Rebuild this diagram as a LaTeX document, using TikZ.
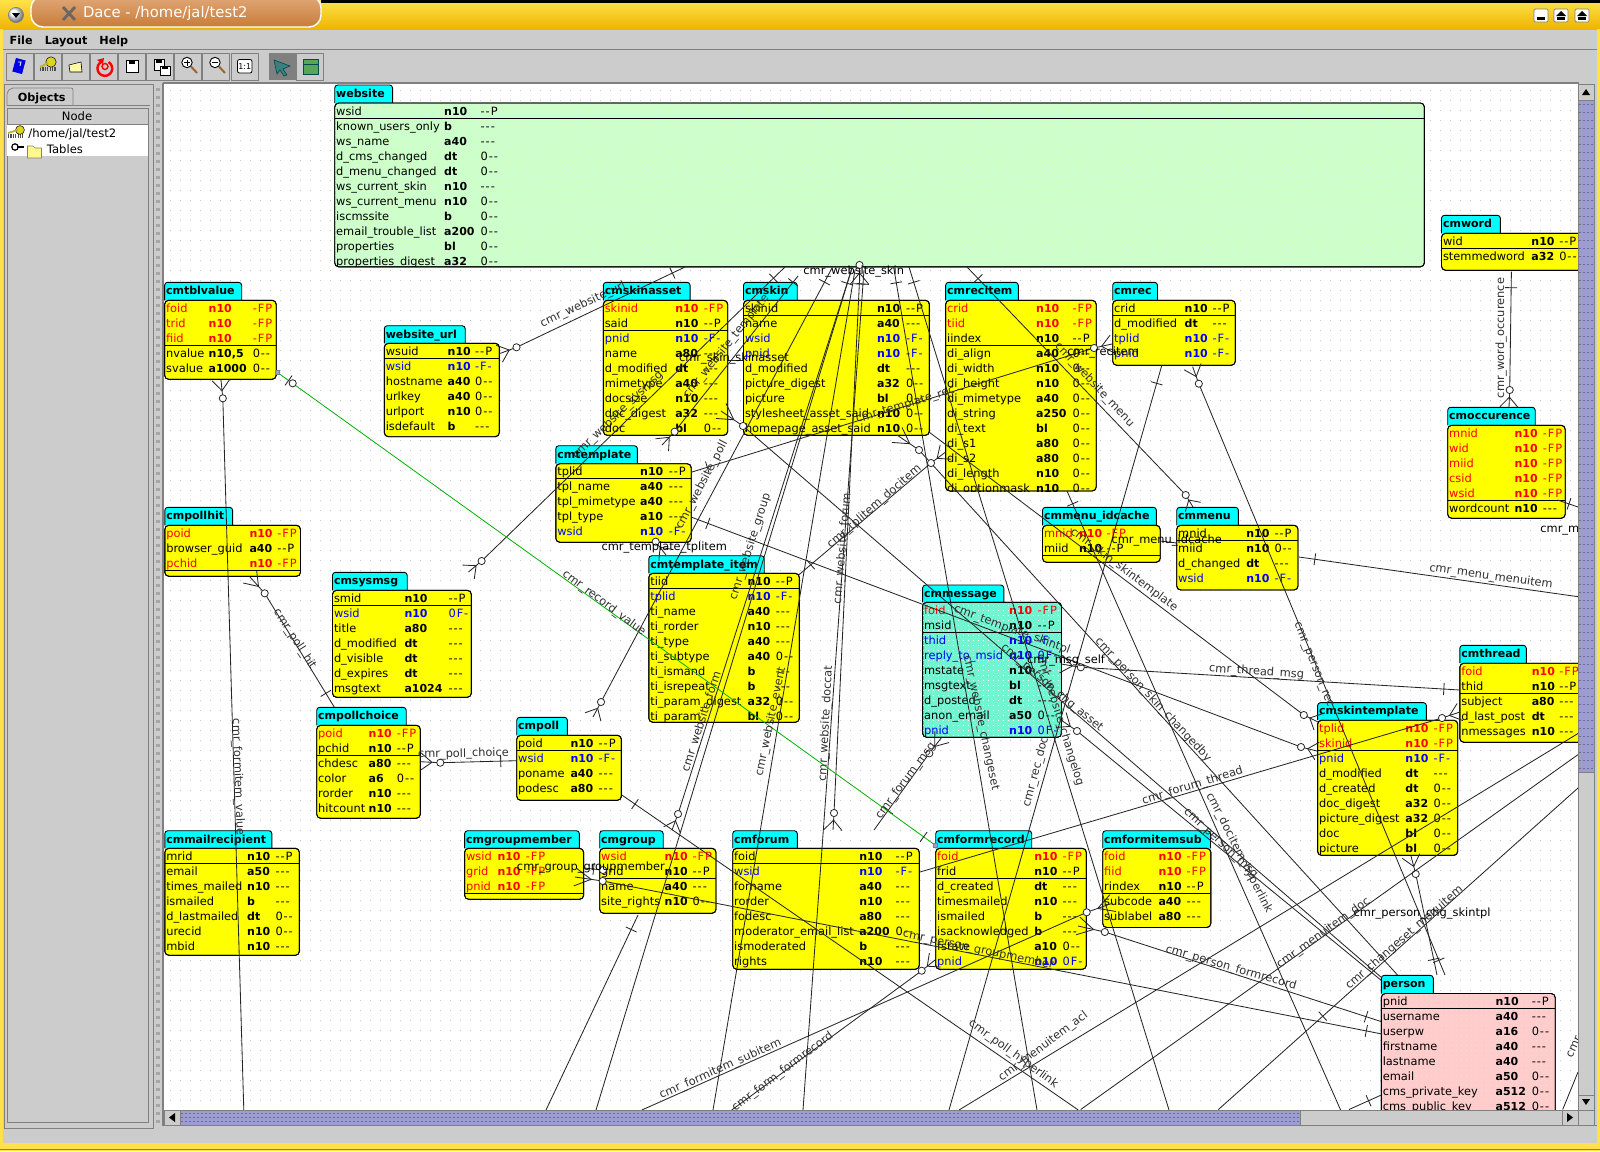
\documentclass[tikz,border=0pt]{standalone}
\usepackage{fontspec}
\setmainfont{DejaVu Sans}
\newfontfamily\flagf[LetterSpace=8]{DejaVu Sans}
\usetikzlibrary{calc,shapes.geometric}
\catcode`\_=12
\definecolor{uigrey}{HTML}{CCCCCC}
\definecolor{uidark}{HTML}{808080}
\definecolor{tabc}{HTML}{00FFFF}
\definecolor{yel}{HTML}{FFFF00}
\definecolor{grn}{HTML}{CCFFCC}
\definecolor{pnk}{HTML}{FFCCCC}
\definecolor{aqu}{HTML}{70F5D0}
\definecolor{rowk}{HTML}{000000}
\definecolor{rowr}{HTML}{FF0000}
\definecolor{rowb}{HTML}{0000FF}
\definecolor{dotc}{HTML}{C4C4E0}
\definecolor{thumb}{HTML}{9C9CD0}
\definecolor{goldA}{HTML}{FFE24A}
\definecolor{goldB}{HTML}{EEB400}
\definecolor{pillA}{HTML}{E0A878}
\definecolor{pillB}{HTML}{C87C38}
\definecolor{labc}{HTML}{303030}
\tikzset{
 frame/.style={draw=black,line width=.45pt},
 hd/.style={font=\fontsize{5.5}{6}\selectfont\bfseries,inner sep=0,outer sep=0},
 rname/.style={font=\fontsize{5.7}{6}\selectfont,inner sep=0,outer sep=0,anchor=base west},
 rtype/.style={font=\fontsize{5.5}{6}\selectfont\bfseries,inner sep=0,outer sep=0,anchor=base west},
 rflag/.style={font=\flagf\fontsize{5.7}{6}\selectfont,inner sep=0,outer sep=0,anchor=base west},
 lnk/.style={draw=black!85,line width=.42pt},
 circ/.style={circle,draw=black!85,fill=white,line width=.4pt,minimum size=3.6pt,inner sep=0},
 lab/.style={font=\fontsize{5.7}{6}\selectfont,text=labc,inner sep=0},
 blab/.style={font=\fontsize{5.7}{6}\selectfont,text=black,inner sep=0},
 ui/.style={font=\fontsize{5.8}{6}\selectfont,inner sep=0,anchor=base west},
 uib/.style={font=\fontsize{5.6}{6}\selectfont\bfseries,inner sep=0,anchor=base west},
 btn/.style={draw=uidark,line width=.4pt,fill=uigrey},
}
\newcounter{cn}
\newcommand\tblgeo[8]{\def\tL{#1}\def\tT{#2}\def\tR{#3}\def\tTop{#4}\def\tB{#5}\def\tBot{#6}\def\tCa{#7}\def\tCb{#8}}
\def\tblhook{}
\newcommand\specks[1]{\def\tblhook{\foreach \sy in {105,110,...,1125}{\draw[#1,line width=.4pt,dash pattern=on .4pt off 2.1pt] (\tL,\sy) -- (\tR,\sy);}}}
\newcommand\tbl[5]{%
 \draw[frame,fill=tabc,rounded corners=1.5pt] (\tL,\tB) -- (\tL,\tTop) -- (\tT,\tTop) -- (\tT,\tB);
 \node[hd,anchor=base west] (#1-t) at (\tL+1.5,\tTop+12.3) {#2};
 \pgfmathsetmacro\bw{(\tR-\tL)*.5}\pgfmathsetmacro\bh{(\tBot-\tB)*.5}
 \node[frame,fill=#4,rounded corners=2pt,minimum width=\bw pt,minimum height=\bh pt,anchor=north west,inner sep=0,outer sep=0] (#1) at (\tL,\tB) {};
 \begin{scope}
 \clip[rounded corners=2pt] (\tL,\tB) rectangle (\tR,\tBot);
 \tblhook
 \draw[frame] (\tL,\tB+15*#3) -- (\tR,\tB+15*#3);
 \foreach [count=\i] \rc/\rn/\rt/\rf in {#5} {
  \node[rname,text=row\rc] (#1-\i-n) at (\tL+1.5,\tB-3+15*\i) {\rn};
  \node[rtype,text=row\rc] (#1-\i-t) at (\tCa,\tB-3+15*\i) {\rt};
  \node[rflag,text=row\rc] (#1-\i-f) at (\tCb,\tB-3+15*\i) {\rf};
 }
 \end{scope}
 \draw[frame,rounded corners=2pt] (\tL,\tB) rectangle (\tR,\tBot);
 \def\tblhook{}
}
\newcommand\rel[3]{\coordinate (#1-a) at (#2);\coordinate (#1-b) at (#3);\draw[lnk] (#1-a) -- (#1-b);}
\newcommand\tk[3]{\coordinate (tkc) at ($(#1)!#3pt!(#2)$);\draw[lnk] ($(tkc)!3pt!90:(#2)$) -- ($(tkc)!3pt!-90:(#2)$);}
\newcommand\ox[1]{\stepcounter{cn}\node[circ] (o\thecn) at (#1) {};}
\newcommand\ft[2]{\draw[lnk] (#1) -- (#2);
 \draw[lnk] ($(#1)!.42!(#2)$) -- ($(#2)!4.5pt!90:(#1)$);
 \draw[lnk] ($(#1)!.42!(#2)$) -- ($(#2)!4.5pt!-90:(#1)$);
 \ox{#1}}
\newcommand\lb[4]{\stepcounter{cn}\node[lab,rotate=#3] (l\thecn) at (#1,#2) {#4};}
\newcommand\blb[3]{\stepcounter{cn}\node[blab] (l\thecn) at (#1,#2) {#3};}
\begin{document}
\begin{tikzpicture}[x=.5pt,y=-.5pt]
\useasboundingbox (0,0) rectangle (1600,1151);
% ---------- window chrome
\fill[uigrey] (0,0) rectangle (1600,1151);
\shade[top color=goldA,bottom color=goldB] (0,0) rectangle (1600,29);
\fill[black] (321,0) rectangle (1600,3);
\fill[goldA] (0,29) rectangle (3,1151);
\fill[goldA] (1597,29) rectangle (1600,1151);
\fill[goldA] (0,1143) rectangle (1600,1151);
\draw[goldB!70!black,line width=.5pt] (0,1149.5) -- (1600,1149.5);
\shade[top color=pillA,bottom color=pillB,draw=white,line width=.7pt,rounded corners=6pt] (31,-4) rectangle (321,27);
\draw[line width=1.4pt,uidark!80!black] (63,7) -- (75,20) (75,7) -- (63,20);
\node[font=\fontsize{7.4}{8}\selectfont,text=white,inner sep=0,anchor=base west] (title) at (82.6,18) {Dace - /home/jal/test2};
\shade[ball color=white,draw=uidark,line width=.3pt] (16,15) circle (3.8pt);
\fill[black] (12,13) -- (20,13) -- (16,18) -- cycle;
\foreach \wx in {1541,1561,1582}{
 \draw[uidark,fill=white,line width=.4pt,rounded corners=.6pt] (\wx-7,9) rectangle (\wx+7,22);
}
\fill[black] (1537,17) rectangle (1545,20);
\fill[black] (1561,11) -- (1566,16) -- (1556,16) -- cycle;
\fill[black] (1557,17) rectangle (1565,20);
\fill[black] (1582,11) -- (1587,16) -- (1577,16) -- cycle;
\fill[black] (1578,17) rectangle (1586,20);
\node[uib] (mfile) at (9.3,44) {File};
\node[uib] (mlayout) at (44.4,44) {Layout};
\node[uib] (mhelp) at (99,44) {Help};
\draw[uidark,line width=.4pt] (3,49.5) -- (1597,49.5);
\foreach \bx in {6,34.5,62.5,90.5,118.5,146.5,174.5,202.5,231}{
 \draw[btn] (\bx,53) rectangle (\bx+27,80);
}
\fill[uidark] (268.5,53) rectangle (295.5,80);
\draw[btn] (296.5,53) rectangle (323.5,80);
% toolbar icons
\fill[blue!90!black,rotate around={-15:(19,66)}] (14,59) rectangle (24,73);
\draw[white,line width=.4pt] (18,62) -- (21,62) -- (20,66);
\draw[black!70,line width=.8pt,dash pattern=on .6pt off .6pt] (40,70) -- (56,70) (40,68) -- (56,68);
\fill[yellow!85!black,draw=black,line width=.25pt] (51,62) circle (2.6pt);
\draw[yellow!70!black,line width=1pt] (40,67) -- (48,63);
\draw[black,fill=yellow!35!white,line width=.3pt] (69,65) -- (81,62) -- (82,72) -- (70,72) -- cycle;
\draw[red,line width=1.2pt] (102.3,61.5) arc (110:420:3.7pt);
\draw[red,line width=.7pt] (105,66.5) circle (1.5pt);
\fill[red] (97,60) -- (104,58) -- (103,64) -- cycle;
\draw[black,fill=white,line width=.5pt] (126,60) rectangle (138,72);
\fill[black] (129,60) rectangle (135,64);
\draw[black,fill=white,line width=.5pt] (154,59) rectangle (164,70);
\fill[black] (156,59) rectangle (162,62.5);
\draw[black,fill=white,line width=.5pt] (160,66) rectangle (170,75);
\fill[black] (162,66) rectangle (168,69);
\foreach \mx/\ms in {187/1,215/0}{
 \draw[black,fill=white,line width=.45pt] (\mx,62.5) circle (2.6pt);
 \draw[black,line width=.35pt] (\mx-3,62.5) -- (\mx+3,62.5);
 \ifnum\ms=1 \draw[black,line width=.35pt] (\mx,59.5) -- (\mx,65.5);\fi
 \draw[brown!80!black,line width=1pt] (\mx+4,66.5) -- (\mx+10,73);
}
\draw[black,fill=white,line width=.4pt,rounded corners=1pt] (237.5,59.5) rectangle (252,73);
\node[font=\fontsize{4}{4}\selectfont,inner sep=0] (one) at (244.7,66.3) {1:1};
\fill[teal!55!gray,draw=teal!60!black,line width=.3pt] (274,60) -- (290,66) -- (283,69) -- (287,75) -- (284,76) -- (280,70) -- (277,74) -- cycle;
\fill[green!30!gray] (303,59) rectangle (318,74);
\draw[teal!60!black,line width=.4pt] (303,59) rectangle (318,74);
\draw[teal!60!black,line width=.4pt] (303,64) -- (318,64);
% left panel
\draw[uidark,line width=.4pt] (4,84) rectangle (153,1128);
\draw[uidark,fill=uigrey,line width=.4pt,rounded corners=1pt] (7,105) -- (7,92) -- (11,88) -- (73,88) -- (73,105);
\node[uib] (objects) at (17.5,101) {Objects};
\draw[uidark,line width=.4pt] (7,105) -- (150,105);
\draw[uidark,line width=.4pt,fill=uigrey] (7,108) rectangle (148,1122);
\fill[white] (7,124) rectangle (148,156);
\draw[btn] (7,108) rectangle (148,124);
\node[font=\fontsize{5.8}{6}\selectfont,inner sep=0] (nodeh) at (77,116.5) {Node};
\draw[black!70,line width=.8pt,dash pattern=on .6pt off .6pt] (8,137) -- (23,137) (8,135) -- (23,135);
\fill[yellow!85!black,draw=black,line width=.25pt] (20,130) circle (2.2pt);
\draw[yellow!70!black,line width=.9pt] (8,133) -- (18,130);
\node[ui] (root) at (28,137) {/home/jal/test2};
\draw[black,fill=white,line width=.6pt] (15,147) circle (1.6pt);
\draw[black,line width=.6pt] (17,147) -- (24,147);
\draw[black!50,fill=yellow!45,line width=.3pt] (27.5,146) -- (33,146) -- (35,148) -- (41.5,148) -- (41.5,158) -- (27.5,158) -- cycle;
\node[ui] (tables) at (46.5,153) {Tables};
% splitter
\foreach \sy in {88,96,...,1120}{\fill[uidark!70] (156,\sy) rectangle (160,\sy+3);}
% ---------- canvas
\fill[white] (164,84) rectangle (1578,1110);
\draw[uidark,line width=.8pt] (163,83) -- (1578.5,83) (163,83) -- (163,1126);
\begin{scope}
\clip (164,84) rectangle (1578,1110);
\foreach \gy in {90,100,...,1110}{
 \draw[dotc,line width=.5pt,dash pattern=on .5pt off 4.5pt] (170,\gy) -- (1578,\gy);
}
% ---------- tables
\tblgeo{334.7}{392.6}{1424.4}{85}{103}{266.8}{444.2}{480.7}
\specks{green!35!yellow!35}
\tbl{website}{website}{1}{grn}{k/wsid/n10/--P,k/known_users_only/b/---,k/ws_name/a40/---,k/d_cms_changed/dt/0--,k/d_menu_changed/dt/0--,k/ws_current_skin/n10/---,k/ws_current_menu/n10/0--,k/iscmssite/b/0--,k/email_trouble_list/a200/0--,k/properties/bl/0--,k/properties_digest/a32/0--}
\tblgeo{164.6}{241.7}{276.2}{282.3}{300.3}{379.3}{208.7}{252.8}
\tbl{cmtblvalue}{cmtblvalue}{3}{yel}{r/foid/n10/-FP,r/trid/n10/-FP,r/fiid/n10/-FP,{k/nvalue/n10,5/0--},k/svalue/a1000/0--}
\tblgeo{384.3}{465.2}{499.3}{325.7}{343.3}{436.7}{447.7}{475.2}
\tbl{website_url}{website_url}{1}{yel}{k/wsuid/n10/--P,b/wsid/n10/-F-,k/hostname/a40/0--,k/urlkey/a40/0--,k/urlport/n10/0--,k/isdefault/b/---}
\tblgeo{603.3}{690.1}{727.7}{282.3}{300.3}{435.3}{675.3}{703.9}
\tbl{cmskinasset}{cmskinasset}{2}{yel}{r/skinid/n10/-FP,k/said/n10/--P,b/pnid/n10/-F-,k/name/a80/---,k/d_modified/dt/---,k/mimetype/a40/---,k/docsize/n10/---,k/doc_digest/a32/---,k/doc/bl/0--}
\tblgeo{743.5}{797.2}{929.4}{282.3}{300.3}{435.3}{877.1}{906}
\tbl{cmskin}{cmskin}{1}{yel}{k/skinid/n10/--P,k/name/a40/---,b/wsid/n10/-F-,b/pnid/n10/-F-,k/d_modified/dt/---,k/picture_digest/a32/0--,k/picture/bl/0--,k/stylesheet_asset_said/n10/0--,k/homepage_asset_said/n10/0--}
\tblgeo{945.6}{1018.3}{1096.2}{282.3}{300.3}{491}{1036.2}{1072.7}
\tbl{cmrecitem}{cmrecitem}{3}{yel}{r/crid/n10/-FP,r/tiid/n10/-FP,k/iindex/n10/--P,k/di_align/a40/0--,k/di_width/n10/0--,k/di_height/n10/0--,k/di_mimetype/a40/0--,k/di_string/a250/0--,k/di_text/bl/0--,k/di_s1/a80/0--,k/di_s2/a80/0--,k/di_length/n10/0--,k/di_optionmask/n10/0--}
\tblgeo{1112.7}{1157.5}{1235.3}{282.3}{300.3}{365.3}{1184.7}{1212.5}
\tbl{cmrec}{cmrec}{1}{yel}{k/crid/n10/--P,k/d_modified/dt/---,b/tplid/n10/-F-,b/pnid/n10/-F-}
\tblgeo{1441.5}{1500.4}{1640}{215.3}{233.3}{270.3}{1531.4}{1559.3}
\tbl{cmword}{cmword}{1}{yel}{k/wid/n10/--P,k/stemmedword/a32/0--}
\tblgeo{1447.7}{1535.2}{1565.2}{407.3}{425.3}{518.3}{1514.5}{1542.8}
\tbl{cmoccurence}{cmoccurence}{5}{yel}{r/mnid/n10/-FP,r/wid/n10/-FP,r/miid/n10/-FP,r/csid/n10/-FP,r/wsid/n10/-FP,k/wordcount/n10/---}
\tblgeo{1042.5}{1156.4}{1160.2}{507.3}{525.3}{562.3}{1079}{1106.5}
\tbl{cmmenu_idcache}{cmmenu_idcache}{2}{yel}{r/mnid/n10/-FP,k/miid/n10/--P}
\tblgeo{1176.7}{1238.4}{1298}{507.3}{525.3}{590}{1246.3}{1274.5}
\tbl{cmmenu}{cmmenu}{1}{yel}{k/mnid/n10/--P,k/miid/n10/0--,k/d_changed/dt/---,b/wsid/n10/-F-}
\tblgeo{555.8}{637.4}{691.2}{445.7}{463.7}{542.3}{640.2}{668.8}
\tbl{cmtemplate}{cmtemplate}{1}{yel}{k/tplid/n10/--P,k/tpl_name/a40/---,k/tpl_mimetype/a40/---,k/tpl_type/a10/---,b/wsid/n10/-F-}
\tblgeo{648.8}{764.2}{799.3}{555.7}{573.3}{722.3}{747.6}{775.9}
\tbl{cmtemplate_item}{cmtemplate_item}{1}{yel}{k/tiid/n10/--P,b/tplid/n10/-F-,k/ti_name/a40/---,k/ti_rorder/n10/---,k/ti_type/a40/---,k/ti_subtype/a40/0--,k/ti_ismand/b/---,k/ti_isrepeat/b/---,k/ti_param_digest/a32/0--,k/ti_param/bl/0--}
\tblgeo{922.6}{1003.8}{1061.5}{585}{602.3}{737.3}{1009.2}{1037.7}
\specks{white}
\tbl{cmmessage}{cmmessage}{2}{aqu}{r/foid/n10/-FP,k/msid/n10/--P,b/thid/n10/-F-,b/reply_to_msid/n10/0F-,k/mstate/n10/---,k/msgtext/bl/---,k/d_posted/dt/---,k/anon_email/a50/0--,b/pnid/n10/0F-}
\tblgeo{164.8}{232.6}{300.5}{507.3}{525.3}{576.3}{249.5}{277.4}
\tbl{cmpollhit}{cmpollhit}{3}{yel}{r/poid/n10/-FP,k/browser_guid/a40/--P,r/pchid/n10/-FP}
\tblgeo{332.5}{407.2}{471.3}{572.3}{590.3}{697.3}{404.5}{448.6}
\tbl{cmsysmsg}{cmsysmsg}{1}{yel}{k/smid/n10/--P,b/wsid/n10/0F-,k/title/a80/---,k/d_modified/dt/---,k/d_visible/dt/---,k/d_expires/dt/---,k/msgtext/a1024/---}
\tblgeo{316.7}{406.2}{420.3}{707.3}{725.3}{818.3}{368.7}{396.9}
\tbl{cmpollchoice}{cmpollchoice}{2}{yel}{r/poid/n10/-FP,k/pchid/n10/--P,k/chdesc/a80/---,k/color/a6/0--,k/rorder/n10/---,k/hitcount/n10/---}
\tblgeo{516.7}{567.4}{621.4}{717.3}{735.3}{800.3}{570.5}{598.7}
\tbl{cmpoll}{cmpoll}{1}{yel}{k/poid/n10/--P,b/wsid/n10/-F-,k/poname/a40/---,k/podesc/a80/---}
\tblgeo{164.8}{271.9}{299.4}{830.7}{848.3}{955.3}{247.2}{275.5}
\tbl{cmmailrecipient}{cmmailrecipient}{1}{yel}{k/mrid/n10/--P,k/email/a50/---,k/times_mailed/n10/---,k/ismailed/b/---,k/d_lastmailed/dt/0--,k/urecid/n10/0--,k/mbid/n10/---}
\tblgeo{464.6}{579.4}{583.6}{830.7}{848.3}{899.3}{497.5}{525.8}
\tbl{cmgroupmember}{cmgroupmember}{3}{yel}{r/wsid/n10/-FP,r/grid/n10/-FP,r/pnid/n10/-FP}
\tblgeo{599.7}{663.2}{716}{830.7}{848.3}{913.3}{664.7}{692.7}
\tbl{cmgroup}{cmgroup}{2}{yel}{r/wsid/n10/-FP,k/grid/n10/--P,k/name/a40/---,k/site_rights/n10/0--}
\tblgeo{732.7}{797.3}{919.3}{830.7}{848.3}{969.3}{859.3}{895.7}
\tbl{cmforum}{cmforum}{1}{yel}{k/foid/n10/--P,b/wsid/n10/-F-,k/forname/a40/---,k/rorder/n10/---,k/fodesc/a80/---,k/moderator_email_list/a200/0--,k/ismoderated/b/---,k/rights/n10/---}
\tblgeo{935.7}{1031.7}{1086.3}{830.7}{848.3}{969.3}{1034.3}{1062.7}
\tbl{cmformrecord}{cmformrecord}{2}{yel}{r/foid/n10/-FP,k/frid/n10/--P,k/d_created/dt/---,k/timesmailed/n10/---,k/ismailed/b/---,k/isacknowledged/b/---,k/fstate/a10/0--,b/pnid/n10/0F-}
\tblgeo{1102.7}{1210.5}{1210.8}{830.7}{848.3}{927.5}{1158.5}{1186.7}
\tbl{cmformitemsub}{cmformitemsub}{3}{yel}{r/foid/n10/-FP,r/fiid/n10/-FP,k/rindex/n10/--P,k/subcode/a40/---,k/sublabel/a80/---}
\tblgeo{1317.6}{1426.4}{1457.7}{702.6}{720.2}{855.4}{1405.4}{1433.6}
\tbl{cmskintemplate}{cmskintemplate}{2}{yel}{r/tplid/n10/-FP,r/skinid/n10/-FP,b/pnid/n10/-F-,k/d_modified/dt/---,k/d_created/dt/0--,k/doc_digest/a32/0--,k/picture_digest/a32/0--,k/doc/bl/0--,k/picture/bl/0--}
\tblgeo{1459.8}{1526.3}{1640}{645.3}{663.2}{742.3}{1531.8}{1559.3}
\tbl{cmthread}{cmthread}{2}{yel}{r/foid/n10/-FP,k/thid/n10/--P,k/subject/a80/---,k/d_last_post/dt/---,k/nmessages/n10/---}
\tblgeo{1381.3}{1433.3}{1555.2}{975.3}{993.5}{1130}{1495.6}{1531.8}
\specks{pink!60!white}
\tbl{person}{person}{1}{pnk}{k/pnid/n10/--P,k/username/a40/---,k/userpw/a16/0--,k/firstname/a40/---,k/lastname/a40/---,k/email/a50/0--,k/cms_private_key/a512/0--,k/cms_public_key/a512/0--}
% ---------- connectors
\rel{a1}{685,267}{516.5,347.3}\tk{a1-a}{a1-b}{7}\ft{a1-b}{499.3,353.7}
\rel{a2}{785,267}{481.6,561}\tk{a2-a}{a2-b}{8}\ft{a2-b}{468.5,572}
\rel{a3}{798,276}{674.6,431.7}\tk{a3-a}{a3-b}{4}\ft{a3-b}{662,445}
\rel{a4}{832,268}{601,702}\tk{a4-a}{a4-b}{8}\ft{a4-b}{593,717}
\rel{a5}{852,268}{678,814}\tk{a5-a}{a5-b}{8}\ft{a5-b}{672,830}
\rel{a6}{852,268}{596,1110}
\rel{a7}{855,270}{713,1110}
\rel{a8}{860,270}{834,813}\tk{a8-a}{a8-b}{7}\ft{a8-b}{833,830}
\rel{a9}{864,270}{803,1110}\tk{a9-a}{a9-b}{7}
\rel{a10}{893.6,267}{1037,1110}\tk{a10-a}{a10-b}{8}
\rel{a11}{909,267}{1169,1110}\tk{a11-a}{a11-b}{8}
\rel{a12}{967,267}{1185.7,495}\tk{a12-a}{a12-b}{8}\ft{a12-b}{1193,507}
\ft{859.5,265}{859.5,284}
\rel{b1}{727.7,360}{743.5,360}
\rel{b2}{743,426}{1382,978}\ft{b2-a}{721,411}
\rel{b3}{929,432}{1303.8,715}\ft{b3-b}{1318,722}
\rel{b4}{691,517}{1301,747}\tk{b4-a}{b4-b}{9}\ft{b4-b}{1317,751}
\rel{b5}{919,450}{1397.5,975}\ft{b5-a}{897,435}
\rel{b6}{931,463}{798.6,575}\tk{b6-b}{b6-a}{8}\ft{b6-a}{945.6,452}
\rel{b7}{692,472}{1094,348}\tk{b7-a}{b7-b}{8}\ft{b7-b}{1112,344}
\rel{b8}{1161.6,366}{949,1110}\tk{b8-a}{b8-b}{9}
\rel{b9}{1198.8,383.7}{1445,975}\tk{b9-b}{b9-a}{8}\ft{b9-a}{1192.6,366.7}
\rel{b10}{1415.7,874}{1437,975}\tk{b10-b}{b10-a}{8}\ft{b10-a}{1411,856}
\rel{b11}{1067,491}{1340.6,1110}\tk{b11-a}{b11-b}{7}
\rel{b12}{1077,731}{1382,981}\ft{b12-a}{1061,720}
\ox{1063,698}
\rel{b13}{1080.8,667.3}{1459.8,690}\tk{b13-b}{b13-a}{8}\ft{b13-a}{1061,664}
\rel{b14}{920,872}{1442,718}\ft{b14-b}{1460,712}
\ft{655.7,541.7}{666,555}
\rel{c1}{959,1110}{1578,733.5}
\rel{c2}{1080.7,1109.5}{1578,754.6}
\rel{c3}{1218.4,1109.5}{1578,788}\tk{c3-a}{c3-b}{70}
\rel{c4}{1299,557}{1578,596.7}\tk{c4-a}{c4-b}{8}
\rel{c5}{1160,541}{1176.7,543}
\rel{c6}{1511.4,271.7}{1509.7,390}\tk{c6-a}{c6-b}{8}\ft{c6-b}{1509,407}
\rel{c7}{1557.6,500}{1578,507}\tk{c7-a}{c7-b}{6}
\rel{d1}{334.2,707}{264.7,593.3}\tk{d1-a}{d1-b}{8}\ft{d1-b}{250,577}
\rel{d2}{516.7,760.7}{440.3,762.7}\tk{d2-a}{d2-b}{8}\ft{d2-b}{420.3,761.7}
\rel{d3}{243.8,1110}{222.8,398.3}\ft{d3-b}{221,380}
\rel{w}{621.8,795}{1078.3,1110}\tk{w-a}{w-b}{8}
\rel{d4}{583.6,868}{603,870}\tk{d4-a}{d4-b}{5}\ox{d4-b}
\rel{y}{602.7,881}{1382,1034}\tk{y-b}{y-a}{8}\ft{y-a}{575,877}
\rel{z}{1104.8,932}{1381.3,1021.6}\tk{z-b}{z-a}{8}\ft{z-a}{1078,926}
\rel{aa}{1086.7,912.3}{641.8,1110}\ft{aa-a}{1113,903}
\rel{ab}{921.7,970.7}{731.7,1110}\ft{ab-a}{935,960}
\rel{ac}{929.3,753.3}{874,830}\tk{ac-b}{ac-a}{12}\ft{ac-a}{942,737}
\rel{ag}{638,915}{546,1110}\tk{ag-a}{ag-b}{8}
\rel{ah}{1349,1109.5}{1381.3,1095}\tk{ah-b}{ah-a}{7}
\rel{ai}{1578,1072}{1562.7,1109.5}
\coordinate (va) at (277.2,372.3);\coordinate (vb) at (935,845);
\draw[green!70!black,line width=.4pt] (va) -- (vb);
\tk{va}{vb}{7}\tk{vb}{va}{7}\ox{292.7,383.3}
\fill[thumb,draw=uidark,line width=.2pt] (275,370) rectangle (279.5,374.5);
\fill[thumb,draw=uidark,line width=.2pt] (932.7,842.7) rectangle (937.3,847.3);
% ---------- labels
\lb{583}{305}{25}{cmr_website_url}
\blb{733.9}{358.3}{cmr_skin_skinasset}
\lb{726.3}{346.7}{51}{cmr_website_template}
\lb{617.8}{415}{44}{cmr_website_sysmsg}
\lb{702}{485}{62}{cmr_website_poll}
\lb{750.4}{546.7}{72}{cmr_website_group}
\lb{842.7}{548.3}{85}{cmr_website_forum}
\lb{874.4}{506.7}{41}{cmr_tplitem_docitem}
\lb{905.3}{405}{17}{cmr_template_rec}
\blb{664.3}{547.7}{cmr_template_tplitem}
\lb{604}{603.3}{-37}{cmr_record_value}
\blb{853.7}{271.7}{cmr_website_skin}
\lb{1094.4}{385}{-47}{cmr_website_menu}
\blb{1103}{352.3}{cmr_recitem}
\lb{1501}{338}{90}{cmr_word_occurence}
\blb{1166.7}{541}{cmr_menu_idcache}
\lb{1491}{576.7}{-8}{cmr_menu_menuitem}
\stepcounter{cn}\node[blab,anchor=west] (l\thecn) at (1540,531) {cmr_m};
\lb{1124}{570}{-37}{cmr_skin_skintemplate}
\lb{1012}{630}{-20}{cmr_template_skintpl}
\lb{981}{723}{-78}{cmr_website_changeset}
\lb{1060}{720}{-73}{cmr_website_changelog}
\lb{1153}{700}{-47}{cmr_person_skin_changedby}
\lb{1052}{688}{-40}{cmr_person_chg_asset}
\lb{1256.6}{672}{-4}{cmr_thread_msg}
\blb{1066}{661}{cmr_msg_self}
\lb{905.8}{780.7}{53}{cmr_forum_msg}
\lb{1192.6}{786}{17}{cmr_forum_thread}
\lb{1313}{665}{-68}{cmr_person_rec}
\lb{1036}{772}{75}{cmr_rec_doc}
\lb{1239}{853}{-63}{cmr_docitem_hyperlink}
\lb{1220}{844}{-43}{cmr_person_msg}
\lb{1231}{968}{-16}{cmr_person_formrecord}
\lb{1323.4}{933}{36}{cmr_menuitem_doc}
\lb{1043.3}{1046.7}{37}{cmr_menuitem_acl}
\lb{1404.4}{938}{41}{cmr_changeset_menuitem}
\blb{1422}{914}{cmr_person_chg_skintpl}
\lb{1013.3}{1054}{-36}{cmr_poll_hyperlink}
\lb{782.7}{1071.7}{37}{cmr_form_formrecord}
\lb{720.4}{1069.4}{24}{cmr_formitem_subitem}
\lb{978.3}{950}{-12}{cmr_person_groupmember}
\blb{590.9}{867.7}{cmr_group_groupmember}
\lb{294.6}{639}{-57}{cmr_poll_hit}
\lb{463.4}{754}{1}{cmr_poll_choice}
\lb{237.8}{777.3}{-88}{cmr_formitem_value}
\lb{770.9}{721.7}{78}{cmr_website_event}
\lb{702}{721.7}{72}{cmr_website_form}
\lb{826}{723.3}{87}{cmr_website_doccat}
\lb{1574}{1047}{65}{cmr}
\end{scope}
% ---------- scroll bars
\fill[uigrey] (1578,84) rectangle (1597,1126);
\draw[uidark,line width=.4pt] (1578,84) -- (1578,1126);
\fill[thumb] (1578.5,100) rectangle (1594,772);
\foreach \py in {104,112,...,768}{\draw[thumb!70!black,line width=.5pt,dash pattern=on 1pt off 1pt] (1579,\py) -- (1594,\py);}
\draw[uidark,line width=.4pt] (1578,772) -- (1594,772);
\draw[btn] (1578,84) rectangle (1594,100);
\fill[black] (1582,95) -- (1590,95) -- (1586,89) -- cycle;
\draw[btn] (1578,1095) rectangle (1594,1110);
\fill[black] (1582,1099) -- (1590,1099) -- (1586,1105) -- cycle;
\fill[uigrey] (164,1110) rectangle (1594,1125);
\fill[thumb] (180,1110.5) rectangle (1300,1125);
\foreach \py in {1113,1117,1121}{\draw[thumb!70!black,line width=.5pt,dash pattern=on 1pt off 1pt] (181,\py) -- (1300,\py);}
\draw[uidark,line width=.4pt] (164,1110) -- (1594,1110) (164,1125.5) -- (1597,1125.5) (1300,1110) -- (1300,1125);
\draw[btn] (164,1110) rectangle (180,1125);
\fill[black] (175,1113) -- (175,1122) -- (169,1117.5) -- cycle;
\draw[btn] (1562,1110) rectangle (1578,1125);
\fill[black] (1567,1113) -- (1567,1122) -- (1573,1117.5) -- cycle;
\draw[uidark,line width=.4pt] (1594,84) -- (1594,1126);
\end{tikzpicture}
\end{document}
